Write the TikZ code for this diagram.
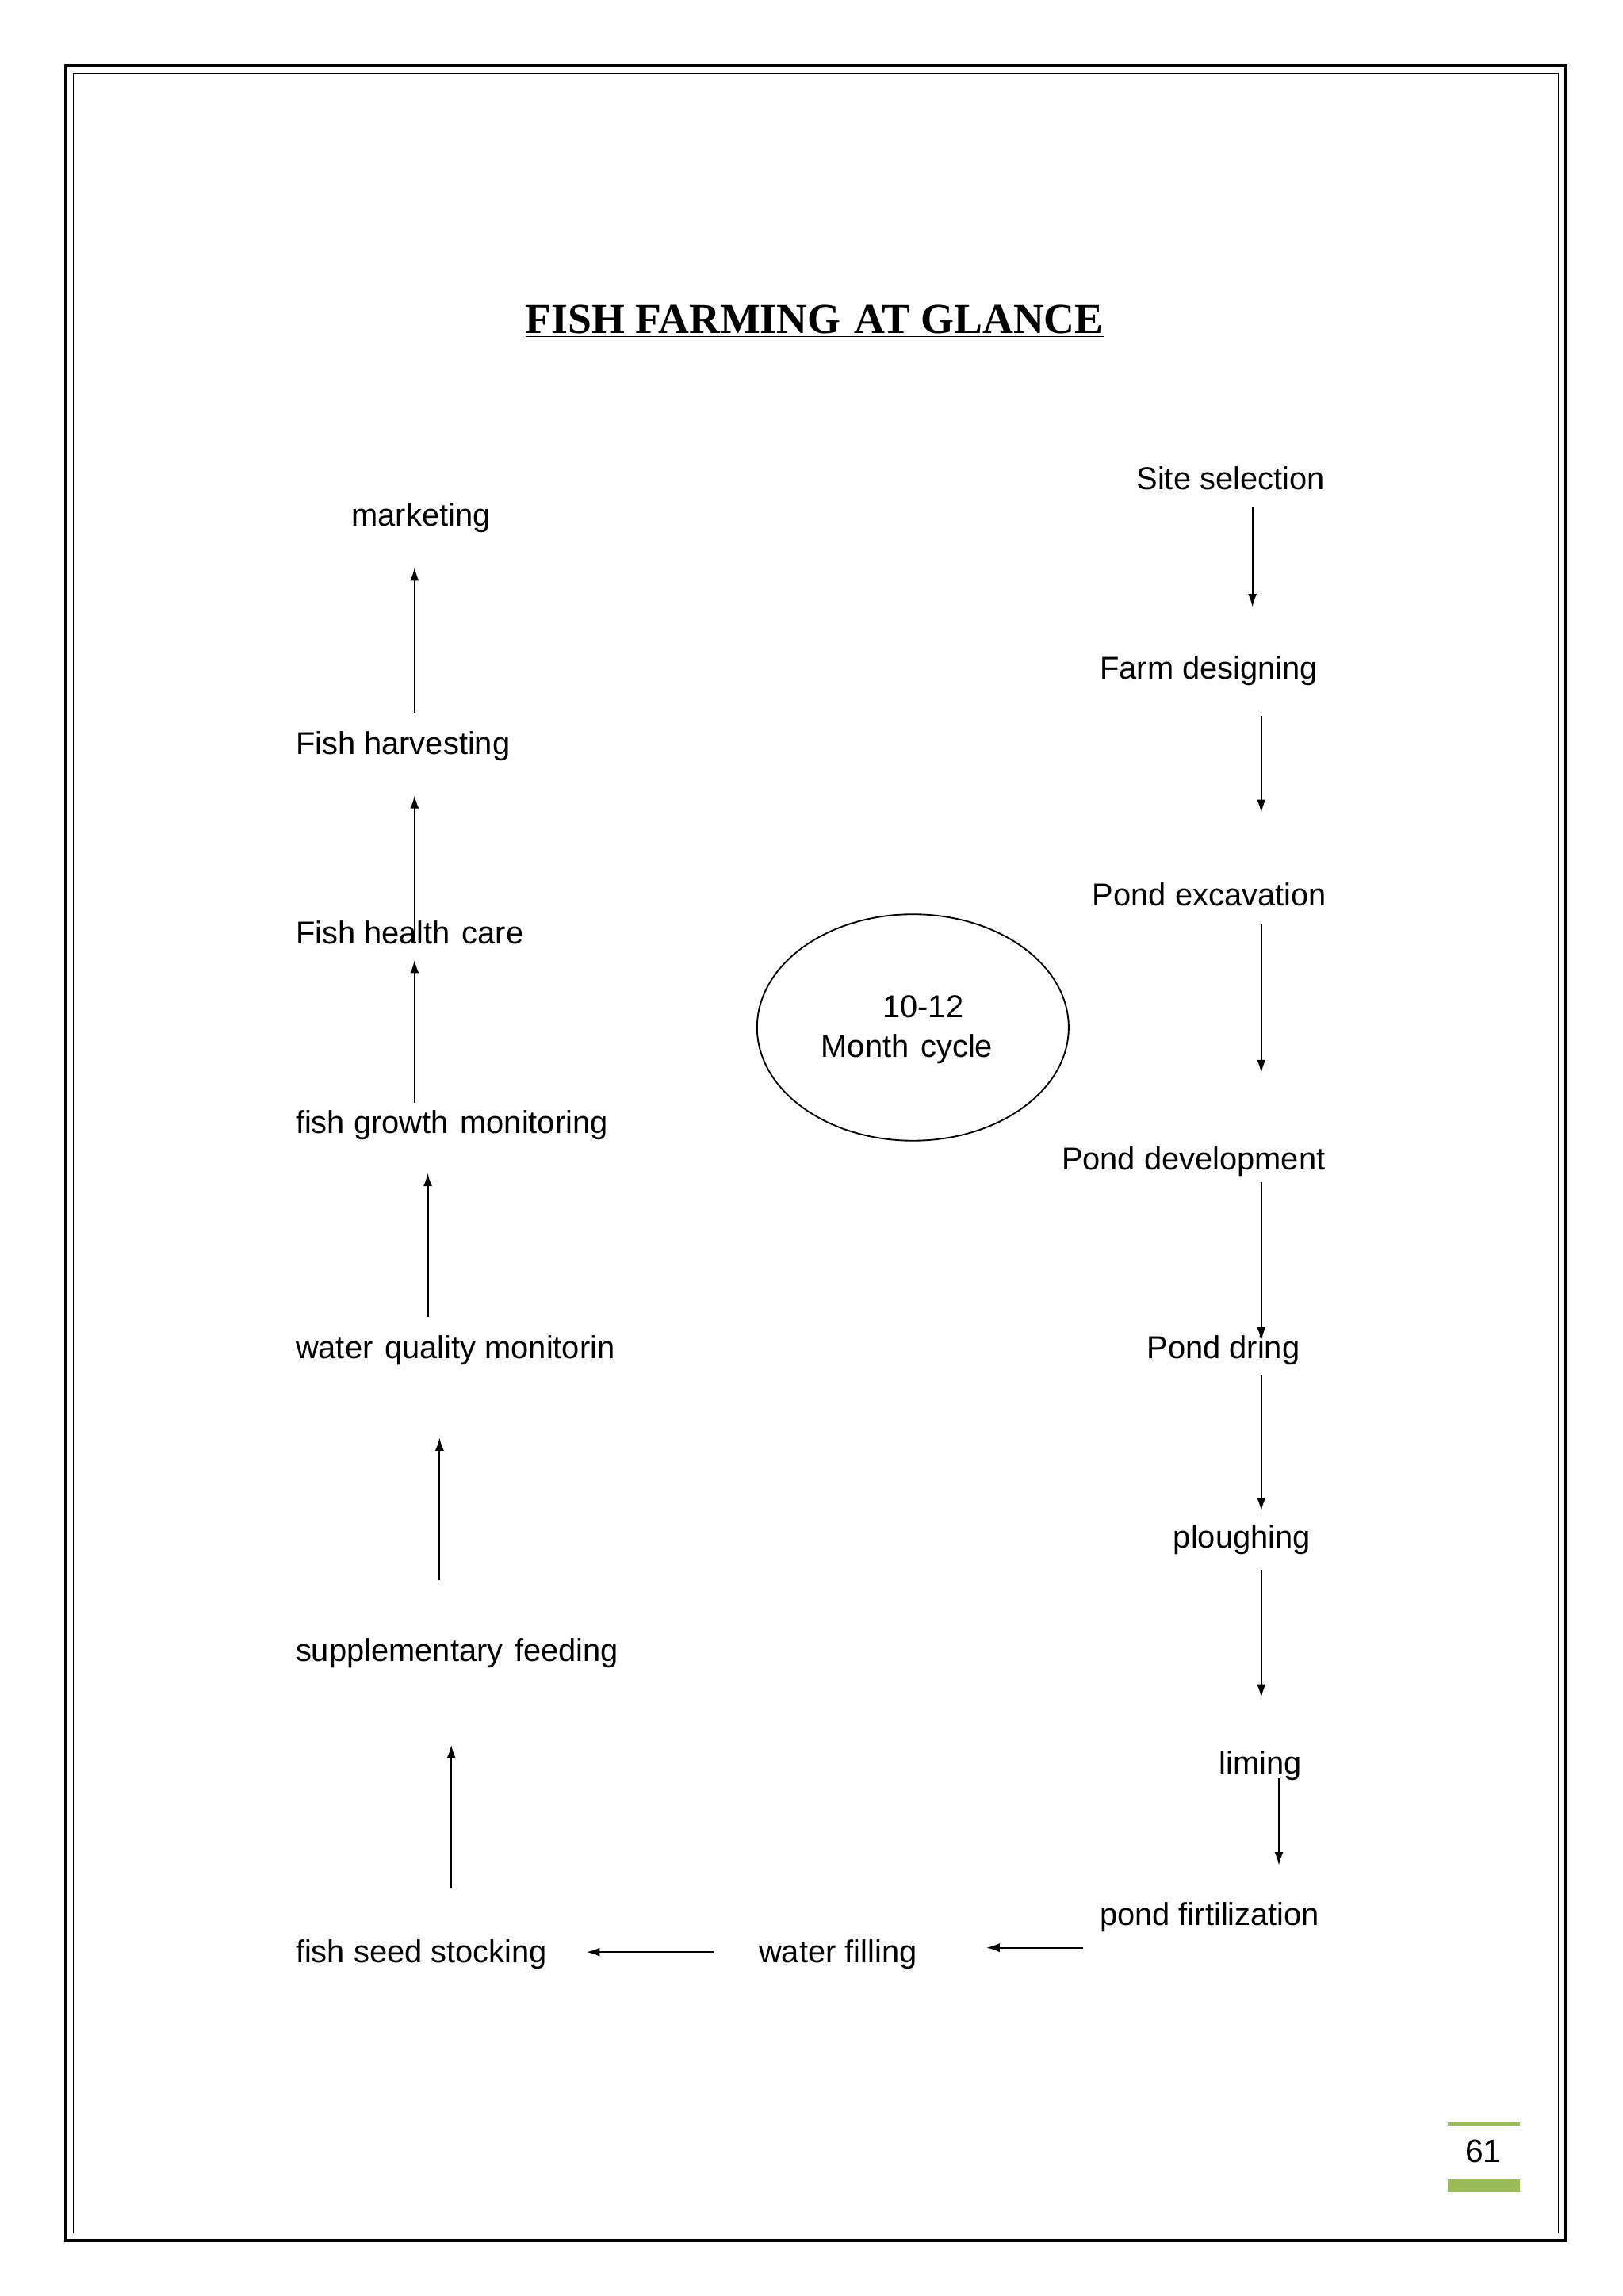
\documentclass[tikz,border=0pt]{standalone}
\usepackage{fontspec}
\setmainfont{Liberation Serif}
\newfontfamily\sansf{Liberation Sans}
\usetikzlibrary{arrows.meta}
\definecolor{pg}{RGB}{155,187,89}
\newcommand{\xs}{\ \hspace{2pt}}
\begin{document}
\begin{tikzpicture}[x=1pt,y=-1pt,
  lbl/.style={anchor=base west,inner sep=0pt,font=\sansf\fontsize{21.5}{25}\selectfont},
  arr/.style={-{Latex[length=9pt,width=6pt]},line width=1.1pt}]
\useasboundingbox (0,0) rectangle (1104,1562);
\draw[line width=2.2pt] (45,45) rectangle (1065,1524);
\draw[line width=0.8pt] (50,50) rectangle (1060,1519);
\node[anchor=base,inner sep=0pt,font=\bfseries\fontsize{29}{32}\selectfont] (title) at (554,227) {\underline{FISH FARMING\xs AT GLANCE}};
\node[lbl] (mk) at (239,358) {marketing};
\node[lbl] (fh) at (201,513) {Fish harvesting};
\node[lbl] (hc) at (201,642) {Fish health\xs care};
\node[lbl] (gm) at (201,771) {fish growth\xs monitoring};
\node[lbl] (wq) at (201,924) {water\xs quality monitorin};
\node[lbl] (sf) at (201,1130) {supplementary\xs feeding};
\node[lbl] (ss) at (201,1335) {fish seed stocking};
\node[lbl] (wf) at (516,1335) {water filling};
\node[lbl] (pf) at (748,1310) {pond firtilization};
\node[lbl] (li) at (829,1207) {liming};
\node[lbl] (pl) at (798,1053) {ploughing};
\node[lbl] (pd) at (780,924) {Pond dring};
\node[lbl] (pv) at (722,796) {Pond development};
\node[lbl] (pe) at (743,616) {Pond excavation};
\node[lbl] (fd) at (748,462) {Farm designing};
\node[lbl] (si) at (773,333) {Site selection};
\draw[line width=1pt] (621,699) ellipse (106 and 77);
\node[lbl,anchor=base] (c1) at (628,692) {10-12};
\node[lbl,anchor=base] (c2) at (617,719) {Month\xs cycle};
\foreach \n/\a/\b/\c/\d in {a1/282/485/282/386, a2/282/640/282/541, a3/282/750/282/653,
  a4/291/896/291/798, a5/299/1075/299/978, a6/307/1284/307/1187, a7/486/1328/399/1328,
  a8/737/1325/671/1325, a9/852/345/852/413, a10/858/487/858/553, a11/858/629/858/730,
  a12/858/804/858/912, a13/858/935/858/1028, a14/858/1068/858/1155, a15/870/1210/870/1269}{
  \coordinate (\n s) at (\a,\b); \coordinate (\n e) at (\c,\d);
  \draw[arr] (\n s) -- (\n e);}
\draw[pg,line width=2pt] (985,1445) -- (1034,1445);
\draw[pg,line width=9pt] (985,1487) -- (1034,1487);
\node[anchor=base,inner sep=0pt,font=\sansf\fontsize{22}{25}\selectfont] (pn) at (1009,1471) {61};
\end{tikzpicture}
\end{document}
